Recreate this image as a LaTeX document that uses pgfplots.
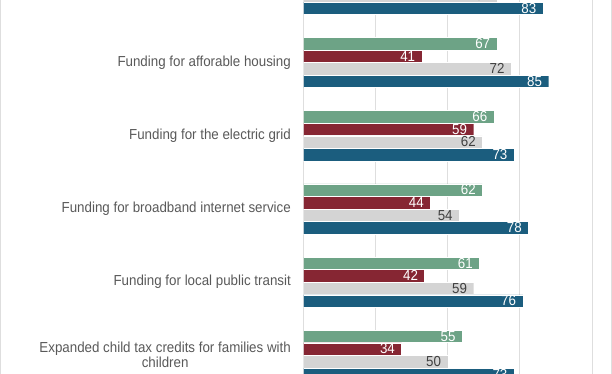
\documentclass[border=0pt]{standalone}
\usepackage{pgfplots}
\pgfplotsset{compat=1.18}
\usepackage{fontspec}
\setmainfont{Liberation Sans}[FakeStretch=0.92]
\definecolor{cgreen}{HTML}{6DA386}
\definecolor{cred}{HTML}{862633}
\definecolor{cgray}{HTML}{D4D4D4}
\definecolor{cblue}{HTML}{1B5D7E}
\definecolor{gridgray}{HTML}{DEDEDE}
\definecolor{labelgray}{HTML}{595959}
\definecolor{numgray}{HTML}{404040}
\begin{document}
\begin{tikzpicture}
\useasboundingbox (0,0) rectangle (612pt,374pt);
\clip (0,0) rectangle (612pt,374pt);
\begin{axis}[
  at={(303.5pt,-17.9pt)}, anchor=south west,
  scale only axis, width=288.5pt, height=439.2pt,
  xmin=0, xmax=100, ymin=-0.5, ymax=5.5, y dir=reverse,
  xbar, bar width=12.3pt,
  axis line style={draw=none},
  /pgf/number format/assume math mode=true,
  xtick={0,25,50,75,100}, xticklabels={},
  xmajorgrids, grid style={color=gridgray, line width=0.8pt},
  ytick={0,1,2,3,4,5},
  yticklabels={{},{Funding for afforable housing},{Funding for the electric grid},{Funding for broadband internet service},{Funding for local public transit},{Expanded child tax credits for families with\\children}},
  yticklabel style={anchor=east, inner sep=0pt, xshift=-12.5pt, align=center, font=\fontsize{14.5}{15}\selectfont, text=labelgray},
  major tick length=0pt,
  nodes near coords,
  point meta=x,
  nodes near coords style={anchor=east, inner sep=0pt, xshift=-6.5pt, font=\fontsize{14.5}{15}\selectfont},
]
\addplot[fill=cgreen, draw=white, line width=0.4pt, bar shift=18.9pt, every node near coord/.append style={text=white}]
  coordinates {(67,1) (66,2) (62,3) (61,4) (55,5)};
\addplot[fill=cred, draw=white, line width=0.4pt, bar shift=6.3pt, every node near coord/.append style={text=white}]
  coordinates {(41,1) (59,2) (44,3) (42,4) (34,5)};
\addplot[fill=cgray, draw=white, line width=0.4pt, bar shift=-6.3pt, every node near coord/.append style={text=numgray}]
  coordinates {(67,0) (72,1) (62,2) (54,3) (59,4) (50,5)};
\addplot[fill=cblue, draw=white, line width=0.4pt, bar shift=-18.9pt, every node near coord/.append style={text=white}]
  coordinates {(83,0) (85,1) (73,2) (78,3) (76,4) (73,5)};
\end{axis}
\draw[gridgray, line width=0.8pt] (0.4pt,0) -- (0.4pt,374pt);
\draw[gridgray, line width=0.8pt] (611.6pt,0) -- (611.6pt,374pt);
\end{tikzpicture}
\end{document}
